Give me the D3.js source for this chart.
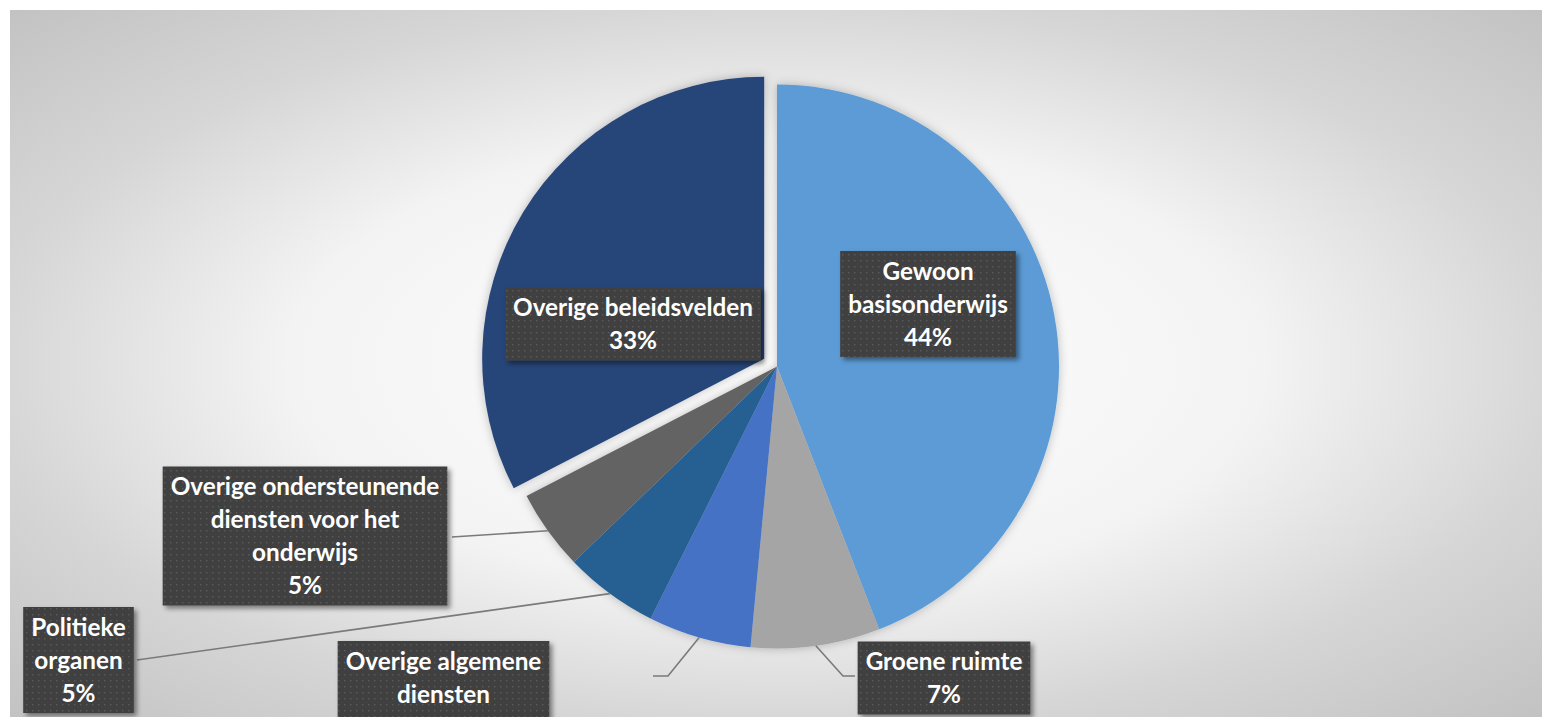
<!DOCTYPE html>
<html>
<head>
<meta charset="utf-8">
<script src="https://cdn.jsdelivr.net/npm/d3@7"></script>
<style>
  body { margin: 0; background: #fff; }
  svg { display: block; }
</style>
</head>
<body>
<div id="chart"></div>
<script>
// data (share of total, clockwise from 12 o'clock)
const categories = ["Gewoon basisonderwijs", "Groene ruimte", "Overige algemene diensten",
                    "Politieke organen", "Overige ondersteunende diensten voor het onderwijs",
                    "Overige beleidsvelden"]
const shares = [44.1, 7.4, 5.9, 5.4, 4.6, 32.6]
const labelLines = [["Gewoon", "basisonderwijs"], ["Groene ruimte"], ["Overige algemene", "diensten"],
                    ["Politieke", "organen"], ["Overige ondersteunende", "diensten voor het", "onderwijs"],
                    ["Overige beleidsvelden"]]

// layout
const width = 1542
const height = 717
const cx = 777, cy = 366.5, radius = 282
const colors = ["#5B9BD5", "#A5A5A5", "#4472C4", "#255E91", "#636363", "#264478"]
const explode = [0, 0, 0, 0, 0, 15]
const labelCenter = [[928, 304], [944, 678], [443.5, 694], [78.5, 660], [305, 536], [633, 324]]
// leader lines: start at the label, optional elbow, end on the slice rim
const leaderStart = [null, [855, 676], [653, 676], [137, 660], [452, 537], null]
const leaderElbow = [null, [843, 676], [668, 676], null, null, null]

let svg = d3.select("#chart")
            .append("svg")
            .attr("width", width)
            .attr("height", height)

let defs = svg.append("defs")

let grad = defs.append("radialGradient")
               .attr("id", "bg")
               .attr("cx", 0.5).attr("cy", 0.5).attr("r", 0.71)
grad.append("stop").attr("offset", 0).attr("stop-color", "#ffffff")
grad.append("stop").attr("offset", 0.45).attr("stop-color", "#f3f3f3")
grad.append("stop").attr("offset", 0.72).attr("stop-color", "#d6d6d6")
grad.append("stop").attr("offset", 1).attr("stop-color", "#c2c2c2")

let pat = defs.append("pattern")
              .attr("id", "dots")
              .attr("patternUnits", "userSpaceOnUse")
              .attr("width", 6).attr("height", 6)
pat.append("rect").attr("width", 6).attr("height", 6).attr("fill", "#404040")
pat.append("rect").attr("x", 2).attr("y", 2).attr("width", 1.4).attr("height", 1.4).attr("fill", "#5a5a5a")

let pieShadow = defs.append("filter").attr("id", "pieShadow")
                    .attr("x", "-10%").attr("y", "-10%").attr("width", "120%").attr("height", "120%")
pieShadow.append("feDropShadow")
         .attr("dx", 0).attr("dy", 0).attr("stdDeviation", 5)
         .attr("flood-color", "#000").attr("flood-opacity", 0.25)

let boxShadow = defs.append("filter").attr("id", "boxShadow")
                    .attr("x", "-10%").attr("y", "-10%").attr("width", "130%").attr("height", "130%")
boxShadow.append("feDropShadow")
         .attr("dx", 3).attr("dy", 3).attr("stdDeviation", 2.5)
         .attr("flood-color", "#000").attr("flood-opacity", 0.45)

svg.append("rect")
   .attr("x", 10).attr("y", 10)
   .attr("width", width - 10).attr("height", height - 10)
   .attr("fill", "url(#bg)")

let pie = d3.pie().sort(null).value(d => d)
let arcs = pie(shares)
let arc = d3.arc().innerRadius(0).outerRadius(radius)
let rim = d3.arc().innerRadius(radius).outerRadius(radius)

let g = svg.append("g").attr("transform", "translate(" + cx + "," + cy + ")")

g.append("g")
 .attr("filter", "url(#pieShadow)")
 .selectAll("path")
 .data(arcs)
 .enter().append("path")
 .attr("d", arc)
 .attr("fill", (d, i) => colors[i])
 .attr("transform", function(d, i) {
     let a = (d.startAngle + d.endAngle) / 2
     return "translate(" + (Math.sin(a) * explode[i]) + "," + (-Math.cos(a) * explode[i]) + ")"
 })

// leader lines
arcs.forEach(function(d, i) {
    if (!leaderStart[i]) return
    let end = rim.centroid(d)
    let pts = [leaderStart[i]]
    if (leaderElbow[i]) pts.push(leaderElbow[i])
    pts.push([end[0] + cx, end[1] + cy])
    svg.append("path")
       .attr("d", d3.line()(pts))
       .attr("fill", "none")
       .attr("stroke", "#7a7a7a")
       .attr("stroke-width", 1.6)
})

// data labels
const lineH = 33
arcs.forEach(function(d, i) {
    let lines = labelLines[i].concat([Math.round(shares[i]) + "%"])
    let lg = svg.append("g")
    let box = lg.append("rect")
                .attr("fill", "url(#dots)")
                .attr("filter", "url(#boxShadow)")
    let t = lg.append("text")
              .attr("text-anchor", "middle")
              .attr("fill", "#ffffff")
              .style("font-family", "Lato, 'Open Sans', sans-serif")
              .style("font-weight", "bold")
              .style("font-size", "24.3px")
    let maxW = 0
    lines.forEach(function(s, j) {
        let ts = t.append("tspan")
                  .attr("x", labelCenter[i][0])
                  .attr("y", labelCenter[i][1] + (j - (lines.length - 1) / 2) * lineH)
                  .attr("dy", "0.36em")
                  .text(s)
        maxW = Math.max(maxW, ts.node().getComputedTextLength())
    })
    let bw = maxW + 16
    let bh = lines.length * lineH + 7
    box.attr("x", labelCenter[i][0] - bw / 2)
       .attr("y", labelCenter[i][1] - bh / 2)
       .attr("width", bw)
       .attr("height", bh)
})
</script>
</body>
</html>
